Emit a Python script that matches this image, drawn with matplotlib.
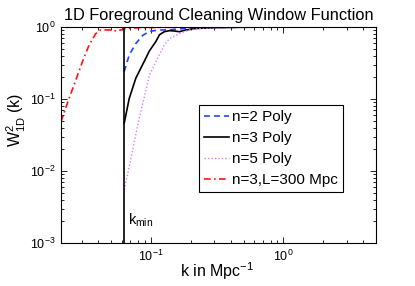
import numpy as np
import matplotlib
matplotlib.use("Agg")
import matplotlib.pyplot as plt
from matplotlib.ticker import LogLocator, NullFormatter

plt.rcParams['font.family'] = ['Liberation Sans', 'DejaVu Sans']
plt.rcParams['mathtext.fontset'] = 'custom'
plt.rcParams['mathtext.rm'] = 'Liberation Sans'
plt.rcParams['mathtext.it'] = 'Liberation Sans'

# --- data ---
k_min = 2 * np.pi / 100.0
x_lim = [2 * np.pi / 300.0, 5.0]

k_n2 = [0.0628, 0.0686, 0.0769, 0.0864, 0.097, 0.116, 0.130, 0.155, 0.195, 0.30, 0.60, 5.0]
w_n2 = [0.24, 0.41, 0.59, 0.76, 0.87, 0.91, 0.91, 0.93, 0.966, 0.985, 0.995, 1.0]

k_n3 = [0.0628, 0.0686, 0.0769, 0.0916, 0.097, 0.109, 0.116, 0.126, 0.138, 0.150, 0.164,
        0.184, 0.219, 0.30, 0.50, 1.0, 5.0]
w_n3 = [0.046, 0.102, 0.195, 0.37, 0.46, 0.63, 0.78, 0.86, 0.89, 0.88, 0.86,
        0.91, 0.955, 0.98, 0.993, 0.998, 1.0]

k_n5 = [0.0628, 0.0686, 0.0747, 0.0815, 0.089, 0.097, 0.109, 0.126, 0.138, 0.164, 0.195,
        0.25, 0.40, 1.0, 5.0]
w_n5 = [0.0055, 0.0115, 0.025, 0.054, 0.105, 0.21, 0.33, 0.56, 0.69, 0.81, 0.91,
        0.965, 0.99, 0.998, 1.0]

k_L300 = [0.0209, 0.0241, 0.0270, 0.0304, 0.0341, 0.0383, 0.0418, 0.0483, 0.0556, 0.0647,
          0.08, 0.12, 0.30, 5.0]
w_L300 = [0.048, 0.102, 0.18, 0.33, 0.56, 0.81, 0.91, 0.91, 0.88, 0.955,
          0.975, 0.99, 0.998, 1.0]

labels = ['n=2 Poly', 'n=3 Poly', 'n=5 Poly', 'n=3,L=300 Mpc']

fig = plt.figure(figsize=(4.15, 2.86), dpi=100)
ax = fig.add_axes([61/415, 1-243/286, (376-61)/415, (243-27)/286])

ax.plot(k_n2, w_n2, color='#2244ff', ls=(0, (3.5, 2.5)), lw=1.2, label=labels[0])
ax.plot(k_n3, w_n3, color='black', ls='-', lw=1.2, label=labels[1])
ax.plot(k_n5, w_n5, color='#dd77ff', ls=(0, (1, 1.5)), lw=1.0, label=labels[2])
ax.plot(k_L300, w_L300, color='#ff1111', ls=(0, (4, 2, 1, 2)), lw=1.2, label=labels[3])
ax.axvline(k_min, color='black', lw=1.2)

ax.set_xscale('log')
ax.set_yscale('log')
ax.set_xlim(*x_lim)
ax.set_ylim(1e-3, 1)

ax.xaxis.set_major_locator(LogLocator(base=10, numticks=10))
ax.xaxis.set_minor_locator(LogLocator(base=10, subs=np.arange(2, 10), numticks=20))
ax.yaxis.set_minor_locator(LogLocator(base=10, subs=np.arange(2, 10), numticks=20))
ax.xaxis.set_minor_formatter(NullFormatter())
ax.yaxis.set_minor_formatter(NullFormatter())
ax.tick_params(which='both', direction='in', top=True, right=True, labelsize=9, width=0.6)
ax.tick_params(which='major', length=4, pad=4)
ax.tick_params(which='minor', length=2)
for s in ax.spines.values():
    s.set_linewidth(0.8)

ax.set_title('1D Foreground Cleaning Window Function', fontsize=11.8, pad=5)
ax.set_xlabel(r'k in Mpc$^{-1}$', fontsize=11.5)
ax.set_ylabel(r'W$^2_{\mathrm{1D}}$ (k)', fontsize=11.5)
ax.xaxis.set_label_coords(0.495, -0.08)
ax.yaxis.set_label_coords(-0.105, 0.57)

ax.text(k_min * 1.06, 10**-2.68, r'k$_{\mathrm{min}}$', fontsize=10.5, va='center', ha='left')

leg = ax.legend(loc='upper left', bbox_to_anchor=(0.438, 0.639), fontsize=11,
                fancybox=False, framealpha=1, edgecolor='black', handlelength=1.6,
                handletextpad=0.2, borderpad=0.35, labelspacing=0.45, borderaxespad=0)
leg.get_frame().set_linewidth(0.8)

fig.savefig('out.png', dpi=100)
